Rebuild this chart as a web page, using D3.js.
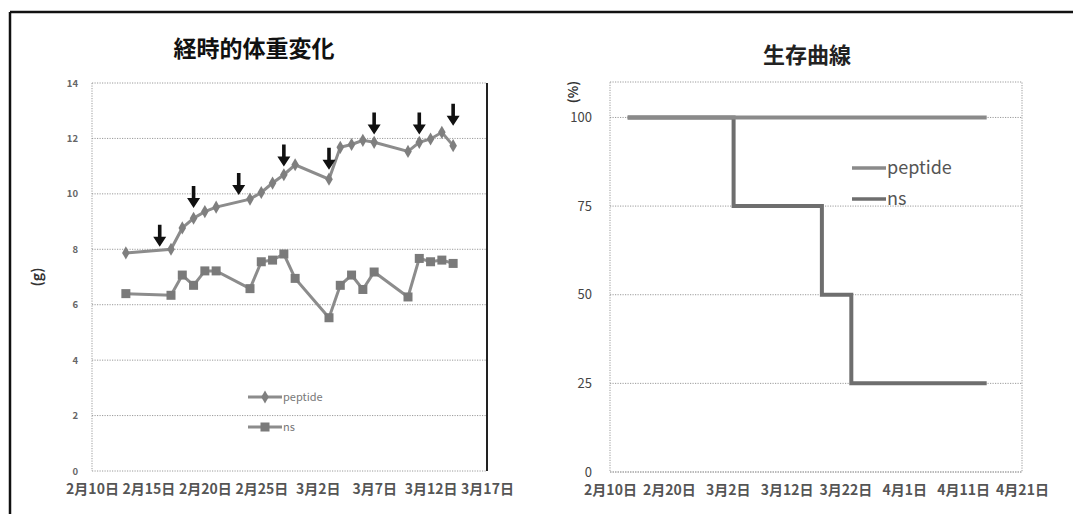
<!DOCTYPE html>
<html>
<head>
<meta charset="utf-8">
<script src="https://cdn.jsdelivr.net/npm/d3@7"></script>
<style>
  html, body { margin: 0; padding: 0; background: #fff; }
  svg { display: block; }
  text { font-family: "Noto Sans CJK JP", "Noto Sans", sans-serif; }
</style>
</head>
<body>
<svg id="chart" width="1073" height="514"></svg>
<script>
// ---- body weight over time ----
const weightDates = ["2015-02-13","2015-02-17","2015-02-18","2015-02-19","2015-02-20","2015-02-21",
  "2015-02-24","2015-02-25","2015-02-26","2015-02-27","2015-02-28","2015-03-03","2015-03-04",
  "2015-03-05","2015-03-06","2015-03-07","2015-03-10","2015-03-11","2015-03-12","2015-03-13","2015-03-14"];
const peptideWeight = [7.87, 8.0, 8.77, 9.12, 9.36, 9.52, 9.81, 10.05, 10.39, 10.69, 11.05, 10.53,
  11.68, 11.78, 11.93, 11.86, 11.53, 11.86, 11.98, 12.22, 11.74];
const nsWeight = [6.40, 6.34, 7.07, 6.70, 7.22, 7.22, 6.58, 7.55, 7.61, 7.83, 6.95, 5.53,
  6.70, 7.07, 6.55, 7.18, 6.28, 7.67, 7.55, 7.61, 7.49];
// dosing arrows: date and the weight value the arrow tip points to
const doseDates = ["2015-02-16","2015-02-19","2015-02-23","2015-02-27","2015-03-03","2015-03-07","2015-03-11","2015-03-14"];
const doseTips = [8.09, 9.49, 9.96, 10.99, 10.87, 12.14, 12.14, 12.46];
const weightTicks = [0, 2, 4, 6, 8, 10, 12, 14];
const weightDateTicks = ["2015-02-10","2015-02-15","2015-02-20","2015-02-25","2015-03-02","2015-03-07","2015-03-12","2015-03-17"];

// ---- survival curve ----
const survPeptideDates = ["2015-02-13","2015-04-15"];
const survPeptide = [100, 100];
const survNsDates = ["2015-02-13","2015-03-03","2015-03-18","2015-03-23","2015-04-15"];
const survNs = [100, 75, 50, 25, 25];
const survTicks = [0, 25, 50, 75, 100];
const survDateTicks = ["2015-02-10","2015-02-20","2015-03-02","2015-03-12","2015-03-22","2015-04-01","2015-04-11","2015-04-21"];

const seriesNames = ["peptide", "ns"];

const parse = d3.timeParse("%Y-%m-%d");
const fmtJa = d => `${d.getMonth() + 1}月${d.getDate()}日`;

const svg = d3.select("#chart");

// outer frame
svg.append("line").attr("x1", 10).attr("x2", 1073).attr("y1", 12).attr("y2", 12)
  .attr("stroke", "#111").attr("stroke-width", 2.5);
svg.append("line").attr("x1", 10).attr("x2", 10).attr("y1", 12).attr("y2", 514)
  .attr("stroke", "#111").attr("stroke-width", 2.5);

const gridColor = "#9a9a9a";
const dotted = "1.2,1.3";

// ================= Left panel =================
(function () {
  const L = 92, R = 487, T = 83, B = 471;
  const x = d3.scaleTime().domain([parse("2015-02-10"), parse("2015-03-17")]).range([L, R]);
  const y = d3.scaleLinear().domain([0, 14]).range([B, T]);
  const g = svg.append("g");

  g.append("text").attr("x", 254).attr("y", 57).attr("text-anchor", "middle")
    .attr("font-size", 23).attr("font-weight", "bold").attr("fill", "#111").text("経時的体重変化");

  // gridlines
  g.append("g").selectAll("line").data(weightTicks).join("line")
    .attr("x1", L).attr("x2", R).attr("y1", d => y(d)).attr("y2", d => y(d))
    .attr("stroke", gridColor).attr("stroke-dasharray", dotted);
  // plot border
  g.append("line").attr("x1", L).attr("x2", L).attr("y1", T).attr("y2", B)
    .attr("stroke", gridColor).attr("stroke-dasharray", dotted);
  g.append("line").attr("x1", R).attr("x2", R).attr("y1", T).attr("y2", B)
    .attr("stroke", "#222").attr("stroke-width", 2);

  // y axis
  const ya = g.append("g").attr("transform", `translate(${L - 14},0)`)
    .call(d3.axisLeft(y).tickValues(weightTicks).tickSize(0).tickPadding(0));
  ya.select(".domain").remove();
  ya.selectAll("text").attr("font-size", 9.5).attr("font-weight", "bold").attr("fill", "#666");

  g.append("text").attr("transform", "translate(42,277) rotate(-90)").attr("text-anchor", "middle")
    .attr("font-size", 14).attr("font-weight", "bold").attr("fill", "#333").text("(g)");

  // x axis
  const xa = g.append("g").attr("transform", `translate(0,${B})`)
    .call(d3.axisBottom(x).tickValues(weightDateTicks.map(parse)).tickFormat(fmtJa).tickSize(0).tickPadding(13));
  xa.select(".domain").remove();
  xa.selectAll("text").attr("font-size", 14).attr("font-weight", "bold").attr("fill", "#555");

  const pep = weightDates.map((d, i) => ({ d: parse(d), v: peptideWeight[i] }));
  const ns = weightDates.map((d, i) => ({ d: parse(d), v: nsWeight[i] }));
  const line = d3.line().x(p => x(p.d)).y(p => y(p.v));

  const lineColor = "#8c8c8c";
  g.append("path").datum(ns).attr("d", line).attr("fill", "none")
    .attr("stroke", lineColor).attr("stroke-width", 3);
  g.append("g").selectAll("rect").data(ns).join("rect")
    .attr("x", p => x(p.d) - 4.5).attr("y", p => y(p.v) - 4.5).attr("width", 9).attr("height", 9)
    .attr("fill", "#7a7a7a");

  g.append("path").datum(pep).attr("d", line).attr("fill", "none")
    .attr("stroke", lineColor).attr("stroke-width", 3);
  const diamond = d3.symbol().type(d3.symbolDiamond).size(50);
  g.append("g").selectAll("path").data(pep).join("path")
    .attr("transform", p => `translate(${x(p.d)},${y(p.v)})`).attr("d", diamond)
    .attr("fill", "#7f7f7f");

  // dosing arrows
  const arrows = doseDates.map((d, i) => ({ d: parse(d), v: doseTips[i] }));
  g.append("g").selectAll("path").data(arrows).join("path")
    .attr("d", a => {
      const cx = x(a.d), ty = y(a.v);
      return `M${cx - 1.8},${ty - 22} L${cx + 1.8},${ty - 22} L${cx + 1.8},${ty - 10} L${cx + 6.5},${ty - 10}` +
        ` L${cx},${ty} L${cx - 6.5},${ty - 10} L${cx - 1.8},${ty - 10} Z`;
    })
    .attr("fill", "#111");

  // legend
  const leg = g.append("g");
  seriesNames.forEach((name, i) => {
    const ly = 397 + i * 30;
    leg.append("line").attr("x1", 248).attr("x2", 282).attr("y1", ly).attr("y2", ly)
      .attr("stroke", lineColor).attr("stroke-width", 3);
    if (i === 0) {
      leg.append("path").attr("transform", `translate(265,${ly})`).attr("d", diamond).attr("fill", "#7f7f7f");
    } else {
      leg.append("rect").attr("x", 260.5).attr("y", ly - 4.5).attr("width", 9).attr("height", 9).attr("fill", "#7a7a7a");
    }
    leg.append("text").attr("x", 283).attr("y", ly + 4).attr("font-size", 11).attr("fill", "#777").text(name);
  });
})();

// ================= Right panel =================
(function () {
  const L = 610, R = 1022, T = 82, B = 472;
  const x = d3.scaleTime().domain([parse("2015-02-10"), parse("2015-04-21")]).range([L, R]);
  const y = d3.scaleLinear().domain([0, 110]).range([B, T]);
  const g = svg.append("g");

  g.append("text").attr("x", 807).attr("y", 63).attr("text-anchor", "middle")
    .attr("font-size", 22).attr("font-weight", "bold").attr("fill", "#222").text("生存曲線");

  g.append("g").selectAll("line").data(survTicks).join("line")
    .attr("x1", L).attr("x2", R).attr("y1", d => y(d)).attr("y2", d => y(d))
    .attr("stroke", gridColor).attr("stroke-dasharray", dotted);
  g.append("rect").attr("x", L).attr("y", T).attr("width", R - L).attr("height", B - T)
    .attr("fill", "none").attr("stroke", gridColor).attr("stroke-dasharray", dotted);

  const ya = g.append("g").attr("transform", `translate(${L - 18},0)`)
    .call(d3.axisLeft(y).tickValues(survTicks).tickSize(0).tickPadding(0));
  ya.select(".domain").remove();
  ya.selectAll("text").attr("font-size", 13).attr("font-family", "'Liberation Sans', sans-serif").attr("fill", "#444");

  g.append("text").attr("transform", "translate(578,92) rotate(-90)").attr("text-anchor", "middle")
    .attr("font-size", 13).attr("font-weight", "bold").attr("fill", "#333").text("(%)");

  const xa = g.append("g").attr("transform", `translate(0,${B})`)
    .call(d3.axisBottom(x).tickValues(survDateTicks.map(parse)).tickFormat(fmtJa).tickSize(0).tickPadding(13));
  xa.select(".domain").remove();
  xa.selectAll("text").attr("font-size", 14).attr("font-weight", "bold").attr("fill", "#555");

  const step = d3.line().curve(d3.curveStepAfter).x(p => x(p.d)).y(p => y(p.v));
  const nsPts = survNsDates.map((d, i) => ({ d: parse(d), v: survNs[i] }));
  const pepPts = survPeptideDates.map((d, i) => ({ d: parse(d), v: survPeptide[i] }));

  const nsColor = "#6e6e6e", pepColor = "#8a8a8a";
  g.append("path").datum(nsPts).attr("d", step).attr("fill", "none")
    .attr("stroke", nsColor).attr("stroke-width", 4);
  g.append("path").datum(pepPts).attr("d", step).attr("fill", "none")
    .attr("stroke", pepColor).attr("stroke-width", 4);

  // legend
  const colors = [pepColor, nsColor];
  seriesNames.forEach((name, i) => {
    const ly = 168 + i * 31;
    g.append("line").attr("x1", 852).attr("x2", 886).attr("y1", ly).attr("y2", ly)
      .attr("stroke", colors[i]).attr("stroke-width", 3.5);
    g.append("text").attr("x", 887).attr("y", ly + 6).attr("font-size", 18)
      .attr("font-family", "'Liberation Sans', sans-serif").attr("fill", "#555").text(name);
  });
})();
</script>
</body>
</html>
